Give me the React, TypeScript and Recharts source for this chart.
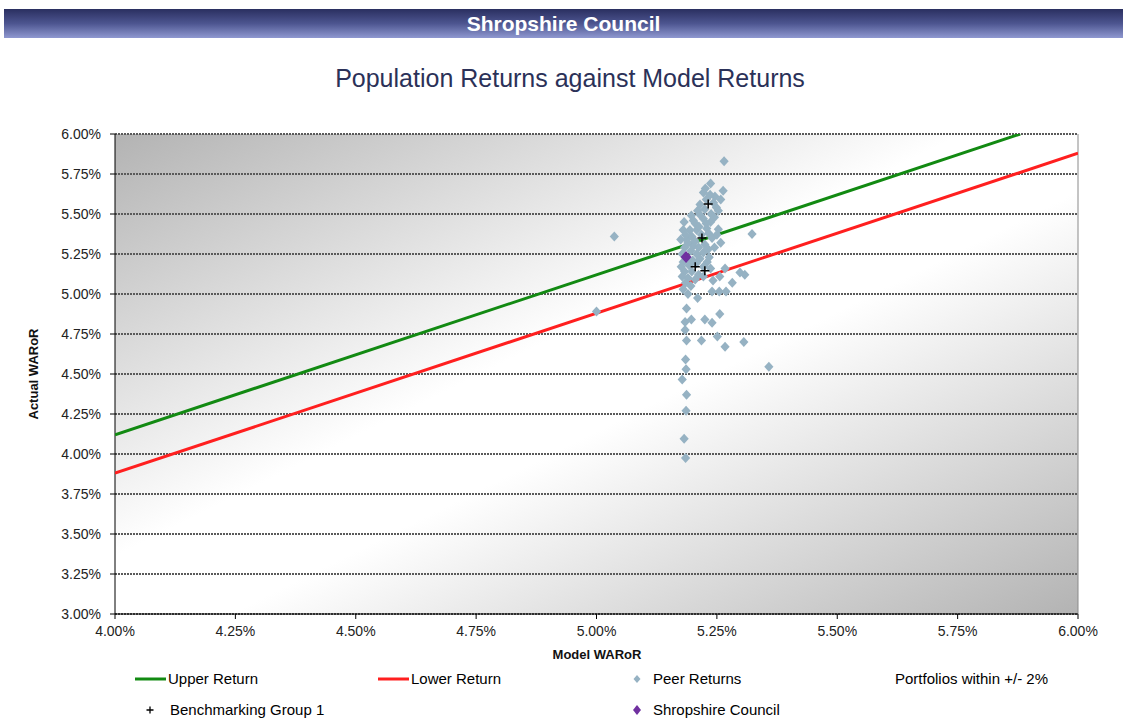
import React from 'react';
import { ScatterChart, Scatter, XAxis, YAxis, CartesianGrid, ReferenceLine } from 'recharts';

const xTicks = [4, 4.25, 4.5, 4.75, 5, 5.25, 5.5, 5.75, 6];
const yTicks = [3, 3.25, 3.5, 3.75, 4, 4.25, 4.5, 4.75, 5, 5.25, 5.5, 5.75, 6];

const upperModel = [4, 5.88];
const upperActual = [4.12, 6];
const lowerModel = [4, 6];
const lowerActual = [3.88, 5.88];

const peerModel = [
  5.265, 5.037, 5.0, 5.323, 5.298, 5.306, 5.358, 5.185, 5.182, 5.186, 5.187, 5.178, 5.186, 5.185, 5.187, 5.218, 5.251, 5.267,
  5.184, 5.184, 5.197, 5.225, 5.24, 5.256, 5.187, 5.21, 5.24, 5.255, 5.269, 5.282, 5.308, 5.267, 5.256, 5.242, 5.253, 5.258, 5.234,
  5.237, 5.222, 5.263, 5.246, 5.249, 5.225, 5.215, 5.201, 5.237, 5.194, 5.18, 5.208, 5.229, 5.187, 5.201,
  5.215, 5.228, 5.243, 5.21, 5.238, 5.222, 5.205, 5.245, 5.213, 5.233, 5.218, 5.198, 5.24, 5.185, 5.19, 5.205, 5.225, 5.212,
  5.232, 5.183, 5.196, 5.178, 5.208, 5.222, 5.19, 5.2, 5.215, 5.23, 5.18, 5.176, 5.192, 5.207, 5.222, 5.183, 5.198, 5.212,
  5.178, 5.19, 5.205, 5.222, 5.185, 5.196, 5.18, 5.19, 5.237, 5.245, 5.25, 5.228, 5.175, 5.182, 5.197, 5.253, 5.258, 5.236, 5.226,
];
const peerActual = [
  5.83, 5.36, 4.89, 5.375, 5.135, 4.7, 4.545, 3.975, 4.095, 4.27, 4.37, 4.465, 4.53, 4.59, 4.71, 4.71, 4.735, 4.67,
  4.825, 4.775, 4.84, 4.84, 4.82, 4.875, 4.91, 4.975, 5.015, 5.015, 5.015, 5.07, 5.12, 5.16, 5.11, 5.085, 5.405, 5.32, 5.23,
  5.69, 5.635, 5.645, 5.61, 5.54, 5.53, 5.495, 5.46, 5.45, 5.4, 5.4, 5.4, 5.41, 5.34, 5.3,
  5.56, 5.59, 5.57, 5.52, 5.5, 5.47, 5.44, 5.48, 5.42, 5.38, 5.37, 5.36, 5.35, 5.37, 5.32, 5.33, 5.31, 5.29,
  5.28, 5.29, 5.27, 5.25, 5.25, 5.26, 5.22, 5.21, 5.22, 5.2, 5.2, 5.17, 5.18, 5.19, 5.17, 5.14, 5.14, 5.12,
  5.11, 5.1, 5.09, 5.11, 5.07, 5.05, 5.03, 5.0, 5.16, 5.29, 5.37, 5.44, 5.34, 5.45, 5.49, 5.52, 5.59, 5.62, 5.66,
];

const benchModel = [5.232, 5.219, 5.205, 5.225];
const benchActual = [5.5625, 5.35, 5.17, 5.145];

const councilModel = [5.186];
const councilActual = [5.231];

const zip = (xs: number[], ys: number[]) => xs.map((x, i) => ({ x, y: ys[i] }));

const upperData = zip(upperModel, upperActual);
const lowerData = zip(lowerModel, lowerActual);
const peerData = zip(peerModel, peerActual);
const benchData = zip(benchModel, benchActual);
const councilData = zip(councilModel, councilActual);

const fmt = (v: number) => v.toFixed(2) + '%';

const makeDiamond = (color: string, rx: number, ry: number) => (props: any) => {
  const { cx, cy } = props;
  if (cx == null || cy == null) return <g />;
  return <path d={`M${cx},${cy - ry}L${cx + rx},${cy}L${cx},${cy + ry}L${cx - rx},${cy}Z`} fill={color} />;
};

const Cross = (props: any) => {
  const { cx, cy } = props;
  if (cx == null || cy == null) return <g />;
  return (
    <path d={`M${cx - 4.5},${cy}H${cx + 4.5}M${cx},${cy - 4.5}V${cy + 4.5}`} stroke="#000" strokeWidth={1.5} fill="none" />
  );
};

const NoShape = () => <g />;

const FONT = 'Arial, "Liberation Sans", Helvetica, sans-serif';

export default function App() {
  const legendText: React.CSSProperties = { position: 'absolute', fontSize: 15, fontFamily: FONT, color: '#000', lineHeight: '18px' };
  return (
    <div style={{ position: 'absolute', left: 0, top: 0, width: 1123, height: 718, background: '#fff', fontFamily: FONT, overflow: 'hidden' }}>
      <svg width={0} height={0} style={{ position: 'absolute' }}>
        <defs>
          <linearGradient id="plotBg" x1="0" y1="0" x2="1" y2="1">
            <stop offset="0" stopColor="#b3b3b3" />
            <stop offset="0.44" stopColor="#ffffff" />
            <stop offset="0.56" stopColor="#ffffff" />
            <stop offset="1" stopColor="#b3b3b3" />
          </linearGradient>
        </defs>
      </svg>
      <div
        style={{
          position: 'absolute', left: 4, top: 9, width: 1119, height: 29,
          background: 'linear-gradient(to bottom, #2a2f60 0%, #4d5590 50%, #8f98d0 100%)',
          color: '#fff', fontWeight: 'bold', fontSize: 21, textAlign: 'center', lineHeight: '29px',
        }}
      >
        Shropshire Council
      </div>
      <div style={{ position: 'absolute', left: 0, top: 63, width: 1140, textAlign: 'center', fontSize: 25, color: '#2b3158', lineHeight: '30px' }}>
        Population Returns against Model Returns
      </div>
      <div style={{ position: 'absolute', left: 0, top: 0 }}>
        <ScatterChart width={1123} height={718} margin={{ top: 134, right: 45, bottom: 74, left: 55 }}>
          <CartesianGrid vertical={false} stroke="#5a5a5a" strokeWidth={2} strokeDasharray="2 1" fill="url(#plotBg)" fillOpacity={1} />
          <ReferenceLine x={6} stroke="#8a8a8a" strokeWidth={1} />
          <XAxis
            type="number" dataKey="x" domain={[4, 6]} ticks={xTicks} tickFormatter={fmt} height={30}
            axisLine={{ stroke: '#000', strokeWidth: 1 }} tickLine={{ stroke: '#000' }} tickSize={5} tickMargin={7}
            tick={{ fill: '#222', fontSize: 14, fontFamily: FONT }} allowDataOverflow interval={0}
          />
          <YAxis
            type="number" dataKey="y" domain={[3, 6]} ticks={yTicks} tickFormatter={fmt} width={60}
            axisLine={{ stroke: '#000', strokeWidth: 1 }} tickLine={{ stroke: '#000' }} tickSize={5} tickMargin={9}
            tick={{ fill: '#222', fontSize: 14, fontFamily: FONT }} allowDataOverflow interval={0}
          />
          <Scatter data={upperData} line={{ stroke: '#128a12', strokeWidth: 3 }} shape={NoShape} isAnimationActive={false} />
          <Scatter data={lowerData} line={{ stroke: '#ff1f1f', strokeWidth: 3 }} shape={NoShape} isAnimationActive={false} />
          <Scatter data={peerData} shape={makeDiamond('#96b2c3', 4.6, 5)} isAnimationActive={false} />
          <Scatter data={benchData} shape={Cross} isAnimationActive={false} />
          <Scatter data={councilData} shape={makeDiamond('#7030a0', 5.5, 6)} isAnimationActive={false} />
        </ScatterChart>
      </div>
      <div style={{ position: 'absolute', left: 497, top: 647, width: 200, textAlign: 'center', fontWeight: 'bold', fontSize: 13, color: '#111' }}>
        Model WARoR
      </div>
      <div
        style={{
          position: 'absolute', left: 33, top: 374, transform: 'translate(-50%, -50%) rotate(-90deg)',
          fontWeight: 'bold', fontSize: 13, color: '#111', whiteSpace: 'nowrap',
        }}
      >
        Actual WARoR
      </div>
      {/* Legend */}
      <svg width={1123} height={718} style={{ position: 'absolute', left: 0, top: 0, pointerEvents: 'none' }}>
        <line x1={135} y1={679} x2={166} y2={679} stroke="#128a12" strokeWidth={3} />
        <line x1={378} y1={679} x2={409} y2={679} stroke="#ff1f1f" strokeWidth={3} />
        <path d="M637,675L640.5,679L637,683L633.5,679Z" fill="#96b2c3" />
        <path d="M146.5,710H153.5M150,706.5V713.5" stroke="#000" strokeWidth={1.3} />
        <path d="M637,705L641,710L637,715L633,710Z" fill="#7030a0" />
      </svg>
      <div style={{ ...legendText, left: 168, top: 670 }}>Upper Return</div>
      <div style={{ ...legendText, left: 411, top: 670 }}>Lower Return</div>
      <div style={{ ...legendText, left: 653, top: 670 }}>Peer Returns</div>
      <div style={{ ...legendText, left: 895, top: 670 }}>Portfolios within +/- 2%</div>
      <div style={{ ...legendText, left: 170, top: 701 }}>Benchmarking Group 1</div>
      <div style={{ ...legendText, left: 653, top: 701 }}>Shropshire Council</div>
    </div>
  );
}
